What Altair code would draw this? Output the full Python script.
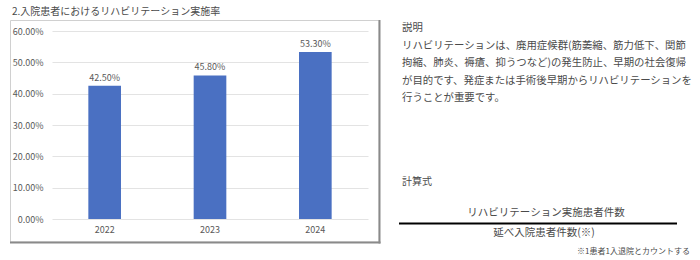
import altair as alt
import pandas as pd

years = ["2022", "2023", "2024"]
rates = [0.425, 0.458, 0.533]
y_ticks = [0.0, 0.1, 0.2, 0.3, 0.4, 0.5, 0.6]
title_text = "2.入院患者におけるリハビリテーション実施率"
desc_lines = [
    "説明",
    "リハビリテーションは、廃用症候群(筋萎縮、筋力低下、関節",
    "拘縮、肺炎、褥瘡、抑うつなど)の発生防止、早期の社会復帰",
    "が目的です、発症または手術後早期からリハビリテーションを",
    "行うことが重要です。",
]
formula_label = "計算式"
numerator = "リハビリテーション実施患者件数"
denominator = "延べ入院患者件数(※)"
note = "※1患者1入退院とカウントする"

FONT = "Noto Sans CJK JP"
df = pd.DataFrame({"year": years, "rate": rates})
one = pd.DataFrame({"k": [0]})

W, H = 316, 188
L, T = 52, 31
TXT = "#4a4a4a"
AX = "#595959"

box = alt.Chart(one).mark_rect(fillOpacity=0, stroke="#d0d0d0", strokeWidth=1).encode(
    x=alt.value(10.5 - L), x2=alt.value(379 - L), y=alt.value(20.5 - T), y2=alt.value(242 - T)
)
shadow_r = alt.Chart(one).mark_rule(color="#8a8a8a", strokeWidth=2).encode(
    x=alt.value(379.5 - L), y=alt.value(20 - T), y2=alt.value(243.5 - T)
)
shadow_b = alt.Chart(one).mark_rule(color="#8a8a8a", strokeWidth=2).encode(
    x=alt.value(10 - L), x2=alt.value(380.5 - L), y=alt.value(242.5 - T)
)

xenc = alt.X(
    "year:N",
    sort=years,
    scale=alt.Scale(paddingInner=0.69, paddingOuter=0.345),
    axis=alt.Axis(labelAngle=0, domain=False, ticks=False, labelColor=AX, labelFontSize=9,
                  labelFont=FONT, labelPadding=6, title=None, grid=False),
)
yenc = alt.Y(
    "rate:Q",
    scale=alt.Scale(domain=[0, 0.6]),
    axis=alt.Axis(format=".2%", values=y_ticks, domain=False, ticks=False, gridColor="#e3e3e3",
                  labelColor=AX, labelFontSize=9, labelFont=FONT, labelPadding=9, title=None,
                  labelOverlap=False),
)

bars = alt.Chart(df).mark_bar(color="#4a70c2").encode(x=xenc, y=yenc)
labels = alt.Chart(df).mark_text(dy=-8, baseline="middle", fontSize=9, font=FONT, color=AX).encode(
    x=xenc, y=yenc, text=alt.Text("rate:Q", format=".2%")
)

title = alt.Chart(one).mark_text(align="left", baseline="middle", fontSize=10, font=FONT, color=TXT).encode(
    x=alt.value(12 - L), y=alt.value(12 - T), text=alt.value(title_text)
)
desc = alt.Chart(one).mark_text(align="left", baseline="middle", fontSize=10.4, font=FONT, color=TXT,
                                lineBreak="\n", lineHeight=17.5).encode(
    x=alt.value(402 - L), y=alt.value(28 - T), text=alt.value("\n".join(desc_lines))
)
calc = alt.Chart(one).mark_text(align="left", baseline="middle", fontSize=10, font=FONT, color=TXT).encode(
    x=alt.value(402 - L), y=alt.value(182 - T), text=alt.value(formula_label)
)
num = alt.Chart(one).mark_text(align="center", baseline="middle", fontSize=10.5, font=FONT, color=TXT).encode(
    x=alt.value(546 - L), y=alt.value(213 - T), text=alt.value(numerator)
)
frac = alt.Chart(one).mark_rule(color="#000000", strokeWidth=2).encode(
    x=alt.value(399 - L), x2=alt.value(677 - L), y=alt.value(223.5 - T)
)
den = alt.Chart(one).mark_text(align="center", baseline="middle", fontSize=10.5, font=FONT, color=TXT).encode(
    x=alt.value(544 - L), y=alt.value(233 - T), text=alt.value(denominator)
)
foot = alt.Chart(one).mark_text(align="right", baseline="middle", fontSize=8, font=FONT, color=TXT).encode(
    x=alt.value(690 - L), y=alt.value(252 - T), text=alt.value(note)
)

chart = alt.layer(
    box, bars, labels, shadow_r, shadow_b, title, desc, calc, num, frac, den, foot
).properties(
    width=W, height=H,
    autosize=alt.AutoSizeParams(type="none"),
    padding={"left": L, "top": T, "right": 700 - L - W, "bottom": 260 - T - H},
    background="white",
).configure_view(strokeWidth=0)

chart.save("out.html", embed_options={"renderer": "svg", "actions": False})
